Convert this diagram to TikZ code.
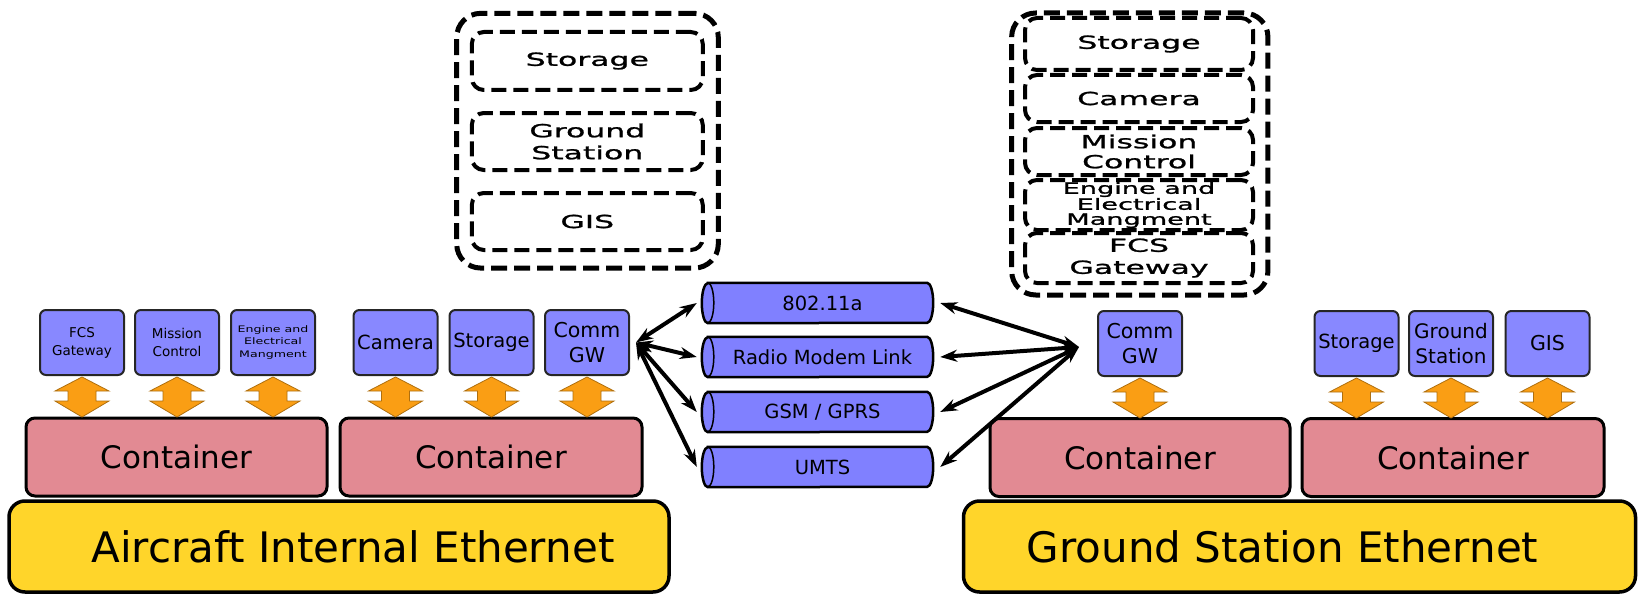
\documentclass[tikz,border=0pt]{standalone}
\usepackage{fontspec}
\setmainfont{DejaVu Sans}
\newfontfamily\widefont[FakeStretch=1.75,FakeBold=1.3]{DejaVu Sans}
\newfontfamily\midwidefont[FakeStretch=1.4]{DejaVu Sans}
\usetikzlibrary{arrows.meta}
\definecolor{boxblue}{RGB}{136,136,255}
\definecolor{cylblue}{RGB}{128,128,255}
\definecolor{contpink}{RGB}{226,138,147}
\definecolor{ethyellow}{RGB}{255,213,42}
\definecolor{arrorange}{RGB}{250,158,20}
\newcommand\fsz[2]{\fontsize{#1}{#2}\selectfont}
\newcommand\drawcyl[1]{%
  \draw[fill=cylblue, line width=2.5pt]
    ([xshift=6pt]#1.north west) -- ([xshift=-6pt]#1.north east)
    arc[start angle=90, end angle=-90, x radius=6pt, y radius=20pt]
    -- ([xshift=6pt]#1.south west)
    arc[start angle=270, end angle=90, x radius=6pt, y radius=20pt] -- cycle;
  \draw[line width=1.5pt] ([xshift=6pt]#1.north west)
    arc[start angle=90, end angle=-90, x radius=6pt, y radius=20pt];
}
\tikzset{
  smallbox/.style={draw=black!85, line width=2pt, fill=boxblue, rounded corners=6pt,
    minimum width=84pt, minimum height=65pt, inner sep=0pt, align=center},
  contbox/.style={draw=black, line width=3pt, fill=contpink, rounded corners=9pt,
    minimum height=78pt, inner sep=0pt, font=\fsz{31}{36}},
  ethbox/.style={draw=black, line width=3.5pt, fill=ethyellow, rounded corners=16pt,
    minimum height=91pt, inner sep=0pt},
  ethtext/.style={font=\fsz{42}{48}, inner sep=0pt},
  cyltext/.style={minimum width=231pt, minimum height=40pt, inner sep=0pt},
  cyllabel/.style={font=\fsz{19.5}{22}, inner sep=0pt},
  dashbox/.style={draw=black, line width=4pt, dash pattern=on 15pt off 7pt, rounded corners=12pt,
    inner sep=0pt, align=center},
  outerdash/.style={draw=black, line width=5pt, dash pattern=on 16pt off 7pt, rounded corners=24pt,
    inner sep=0pt},
  link/.style={line width=4pt, {Stealth[length=17pt,width=12pt]}-{Stealth[length=17pt,width=12pt]}},
  dbl/.pic={\filldraw[fill=arrorange, draw=arrorange!70!black, line width=0.8pt]
    (0,0) -- (27,14) -- (14,14) -- (14,24) -- (27,24) -- (0,40) -- (-27,24) -- (-14,24)
    -- (-14,14) -- (-27,14) -- cycle;}
}
\begin{document}
\begin{tikzpicture}[x=1pt, y=-1pt]
\useasboundingbox (0,0) rectangle (1639,594);

% Ethernet bars
\node[ethbox, minimum width=660pt] (leth) at (339,546.5) {};
\node[ethtext] (lethtext) at ([xshift=14pt]leth.center) {Aircraft Internal Ethernet};
\node[ethbox, minimum width=672pt] (reth) at (1299.5,546.5) {};
\node[ethtext] (rethtext) at ([xshift=-17pt]reth.center) {Ground Station Ethernet};

% Containers
\node[contbox, minimum width=301pt] (c1) at (176.5,457) {Container};
\node[contbox, minimum width=302pt] (c2) at (491,457) {Container};
\node[contbox, minimum width=300pt] (c3) at (1140,457.5) {Container};
\node[contbox, minimum width=302pt] (c4) at (1453,457.5) {Container};

% Small boxes left
\node[smallbox, font=\fsz{13.5}{18}] (fcs) at (82,342.5) {FCS\\Gateway};
\node[smallbox, font=\fsz{13.5}{18}] (mis) at (177,342.5) {Mission\\Control};
\node[smallbox, font=\midwidefont\fsz{9}{12.5}] (eng) at (273,342.5) {Engine and\\Electrical\\Mangment};
\node[smallbox, font=\fsz{19.5}{24}] (cam) at (395.5,342.5) {Camera};
\node[smallbox, font=\fsz{19.5}{24}] (sto) at (491.5,342.5) {Storage};
\node[smallbox, font=\fsz{20.5}{25}] (lgw) at (587,342.5) {Comm\\GW};

% Small boxes right
\node[smallbox, font=\fsz{20.5}{25}] (rgw) at (1140,343.5) {Comm\\GW};
\node[smallbox, font=\fsz{19.5}{24}] (rsto) at (1356.5,343.5) {Storage};
\node[smallbox, font=\fsz{20}{25}] (rgs) at (1451,343.5) {Ground\\Station};
\node[smallbox, font=\fsz{20.5}{25}] (rgis) at (1547.5,343.5) {GIS};

% Orange double arrows
\foreach \cx in {82,177,273,395.5,491.5,587} { \pic at (\cx,377) {dbl}; }
\foreach \cx in {1140,1356.5,1451,1547.5} { \pic at (\cx,378) {dbl}; }

% Cylinders (links)
\node[cyltext] (l1) at (817.5,303) {};
\node[cyltext] (l2) at (817.5,357) {};
\node[cyltext] (l3) at (817.5,412) {};
\node[cyltext] (l4) at (817.5,467) {};
\drawcyl{l1}\drawcyl{l2}\drawcyl{l3}\drawcyl{l4}
\node[cyllabel] at ([xshift=5pt]l1.center) {802.11a};
\node[cyllabel] at ([xshift=5pt]l2.center) {Radio Modem Link};
\node[cyllabel] at ([xshift=5pt]l3.center) {GSM / GPRS};
\node[cyllabel] at ([xshift=5pt]l4.center) {UMTS};

% Connectors
\coordinate (lhub) at ([xshift=6pt]lgw.east);
\coordinate (rhub) at ([xshift=-18pt,yshift=-3.5pt]rgw.west);
\foreach \n in {l1,l2,l3,l4} {
  \draw[link] (lhub) -- ([xshift=-5pt]\n.west);
  \draw[link] (rhub) -- ([xshift=7pt]\n.east);
}

% Dashed groups left
\node[outerdash, minimum width=261.6pt, minimum height=254.7pt] (lgrp) at (587.5,140.7) {};
\node[dashbox, minimum width=231pt, minimum height=58pt, font=\widefont\fsz{18}{22}] (dsto) at (587.3,61) {Storage};
\node[dashbox, minimum width=231pt, minimum height=57pt, font=\widefont\fsz{18}{22}] (dgs) at (587.3,141.5) {Ground\\Station};
\node[dashbox, minimum width=231pt, minimum height=57pt, font=\widefont\fsz{18}{22}] (dgis) at (587.3,221.5) {GIS};

% Dashed groups right
\node[outerdash, minimum width=256.3pt, minimum height=282pt] (rgrp) at (1139.8,154) {};
\node[dashbox, minimum width=228pt, minimum height=52pt, font=\widefont\fsz{18}{22}] (rdsto) at (1139,44) {Storage};
\node[dashbox, minimum width=228pt, minimum height=47pt, font=\widefont\fsz{18}{22}] (rdcam) at (1139,98.5) {Camera};
\node[dashbox, minimum width=228pt, minimum height=47pt, font=\widefont\fsz{18}{20}] (rdmis) at (1139,151.5) {Mission\\Control};
\node[dashbox, minimum width=228pt, minimum height=50pt, font=\widefont\fsz{15.5}{15}] (rdeng) at (1139,205) {Engine and\\Electrical\\Mangment};
\node[dashbox, minimum width=228pt, minimum height=50pt, font=\widefont\fsz{18}{22}] (rdfcs) at (1139,258) {FCS\\Gateway};
\end{tikzpicture}
\end{document}
